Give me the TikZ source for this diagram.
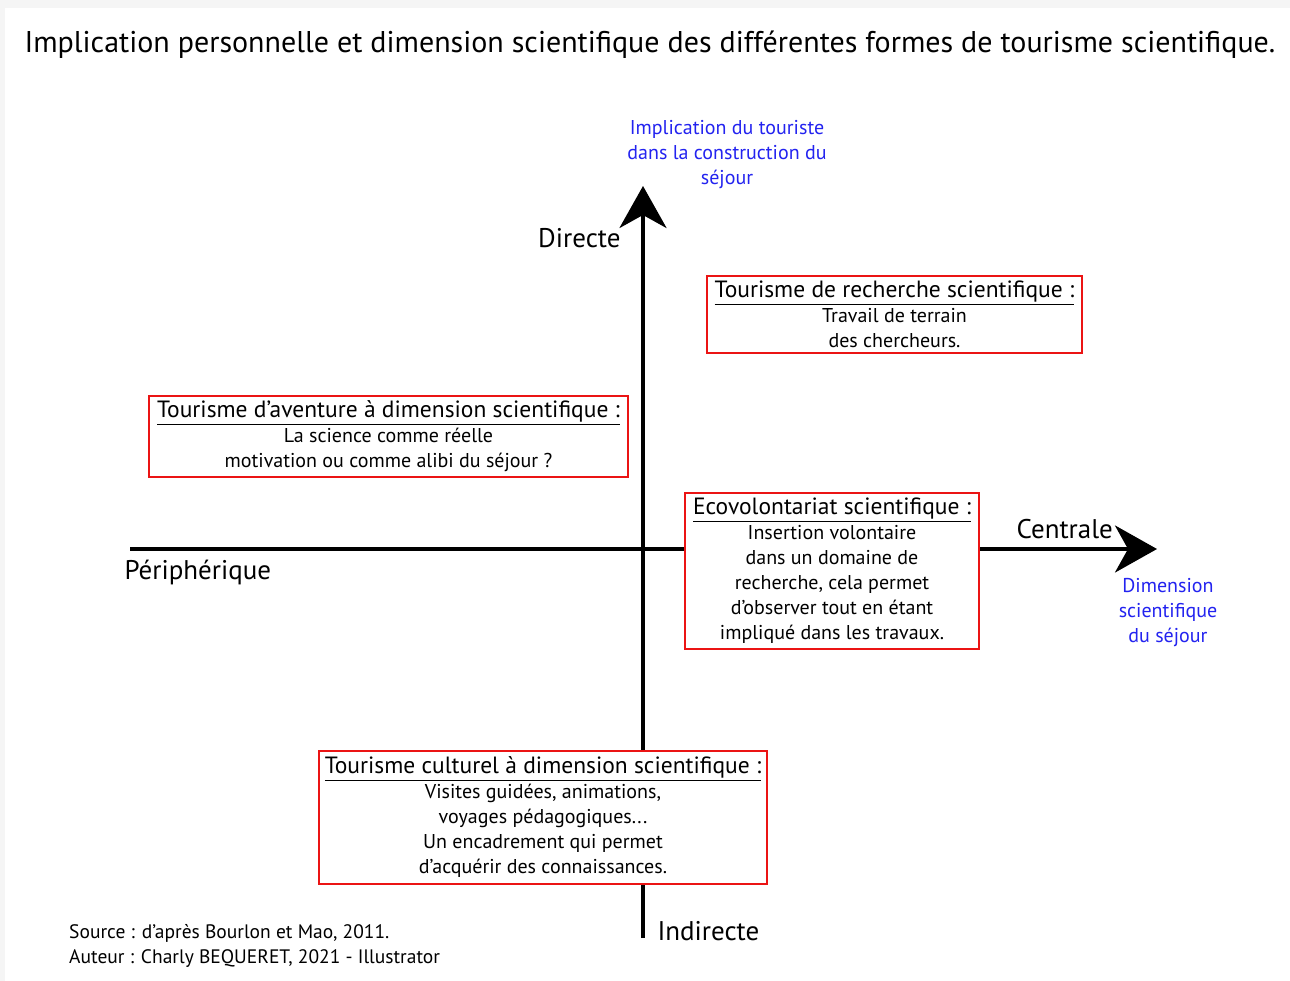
\documentclass[tikz,border=0pt]{standalone}
\usepackage{fontspec}
\setmainfont{PT Sans}
\usetikzlibrary{arrows.meta}
\definecolor{labelblue}{RGB}{35,35,240}
\definecolor{boxred}{RGB}{235,20,20}
\newcommand{\boxhead}[1]{{\fontsize{23.5}{27}\selectfont\underline{#1}}\\}

\begin{document}
\begin{tikzpicture}[x=1pt,y=-1pt,
  axis/.style={line width=4pt,-{Stealth[length=42pt,width=47pt,inset=13pt]}},
  casebox/.style={draw=boxred,line width=1.3pt,fill=white,align=center,inner sep=0pt,font=\fontsize{20}{25}\selectfont},
  axislabel/.style={font=\fontsize{27}{30}\selectfont},
  bluelabel/.style={text=labelblue,align=center,font=\fontsize{20}{25}\selectfont}]
	\useasboundingbox (0,0) rectangle (1290,981);
	\fill[gray!8] (0,0) rectangle (1290,981);
	\fill[white] (5,8) rectangle (1290,981);
	\node[font=\fontsize{30}{34}\selectfont] (titre) at (650,45) {Implication personnelle et dimension scientifique des différentes formes de tourisme scientifique.};
	% axes
	\coordinate (axS) at (643,938);
	\coordinate (axN) at (643,186);
	\coordinate (axW) at (130,549);
	\coordinate (axE) at (1157,549);
	\draw[axis] (axS) -- (axN);
	\draw[axis] (axW) -- (axE);
	\node[axislabel,anchor=east] (directe) at (624,238) {Directe};
	\node[axislabel,anchor=west] (indirecte) at (654,931) {Indirecte};
	\node[axislabel,anchor=west] (centrale) at (1013,529) {Centrale};
	\node[axislabel,anchor=west] (periph) at (121,572) {Périphérique};
	\node[bluelabel] (implic) at (727,155) {Implication du touriste\\dans la construction du\\séjour};
	\node[bluelabel] (dimsci) at (1168,613) {Dimension\\scientifique\\du séjour};
	% les formes de tourisme
	\node[casebox,minimum width=375pt,minimum height=77pt] (recherche) at (894.5,314.5)
	  {\boxhead{Tourisme de recherche scientifique :}Travail de terrain\\des chercheurs.};
	\node[casebox,minimum width=479pt,minimum height=81pt] (aventure) at (388.5,436.5)
	  {\boxhead{Tourisme d’aventure à dimension scientifique :}La science comme réelle\\motivation ou comme alibi du séjour ?};
	\node[casebox,minimum width=294pt,minimum height=156pt] (ecovol) at (832,571)
	  {\boxhead{Ecovolontariat scientifique :}Insertion volontaire\\dans un domaine de\\recherche, cela permet\\d’observer tout en étant\\impliqué dans les travaux.};
	\node[casebox,minimum width=448pt,minimum height=133pt] (culturel) at (543,817.5)
	  {\boxhead{Tourisme culturel à dimension scientifique :}Visites guidées, animations,\\voyages pédagogiques...\\Un encadrement qui permet\\d’acquérir des connaissances.};
	\node[anchor=west,align=left,inner sep=0pt,font=\fontsize{19.5}{25}\selectfont] (source) at (69,946)
	  {Source : d’après Bourlon et Mao, 2011.\\Auteur : Charly BEQUERET, 2021 - Illustrator};
\end{tikzpicture}
\end{document}
